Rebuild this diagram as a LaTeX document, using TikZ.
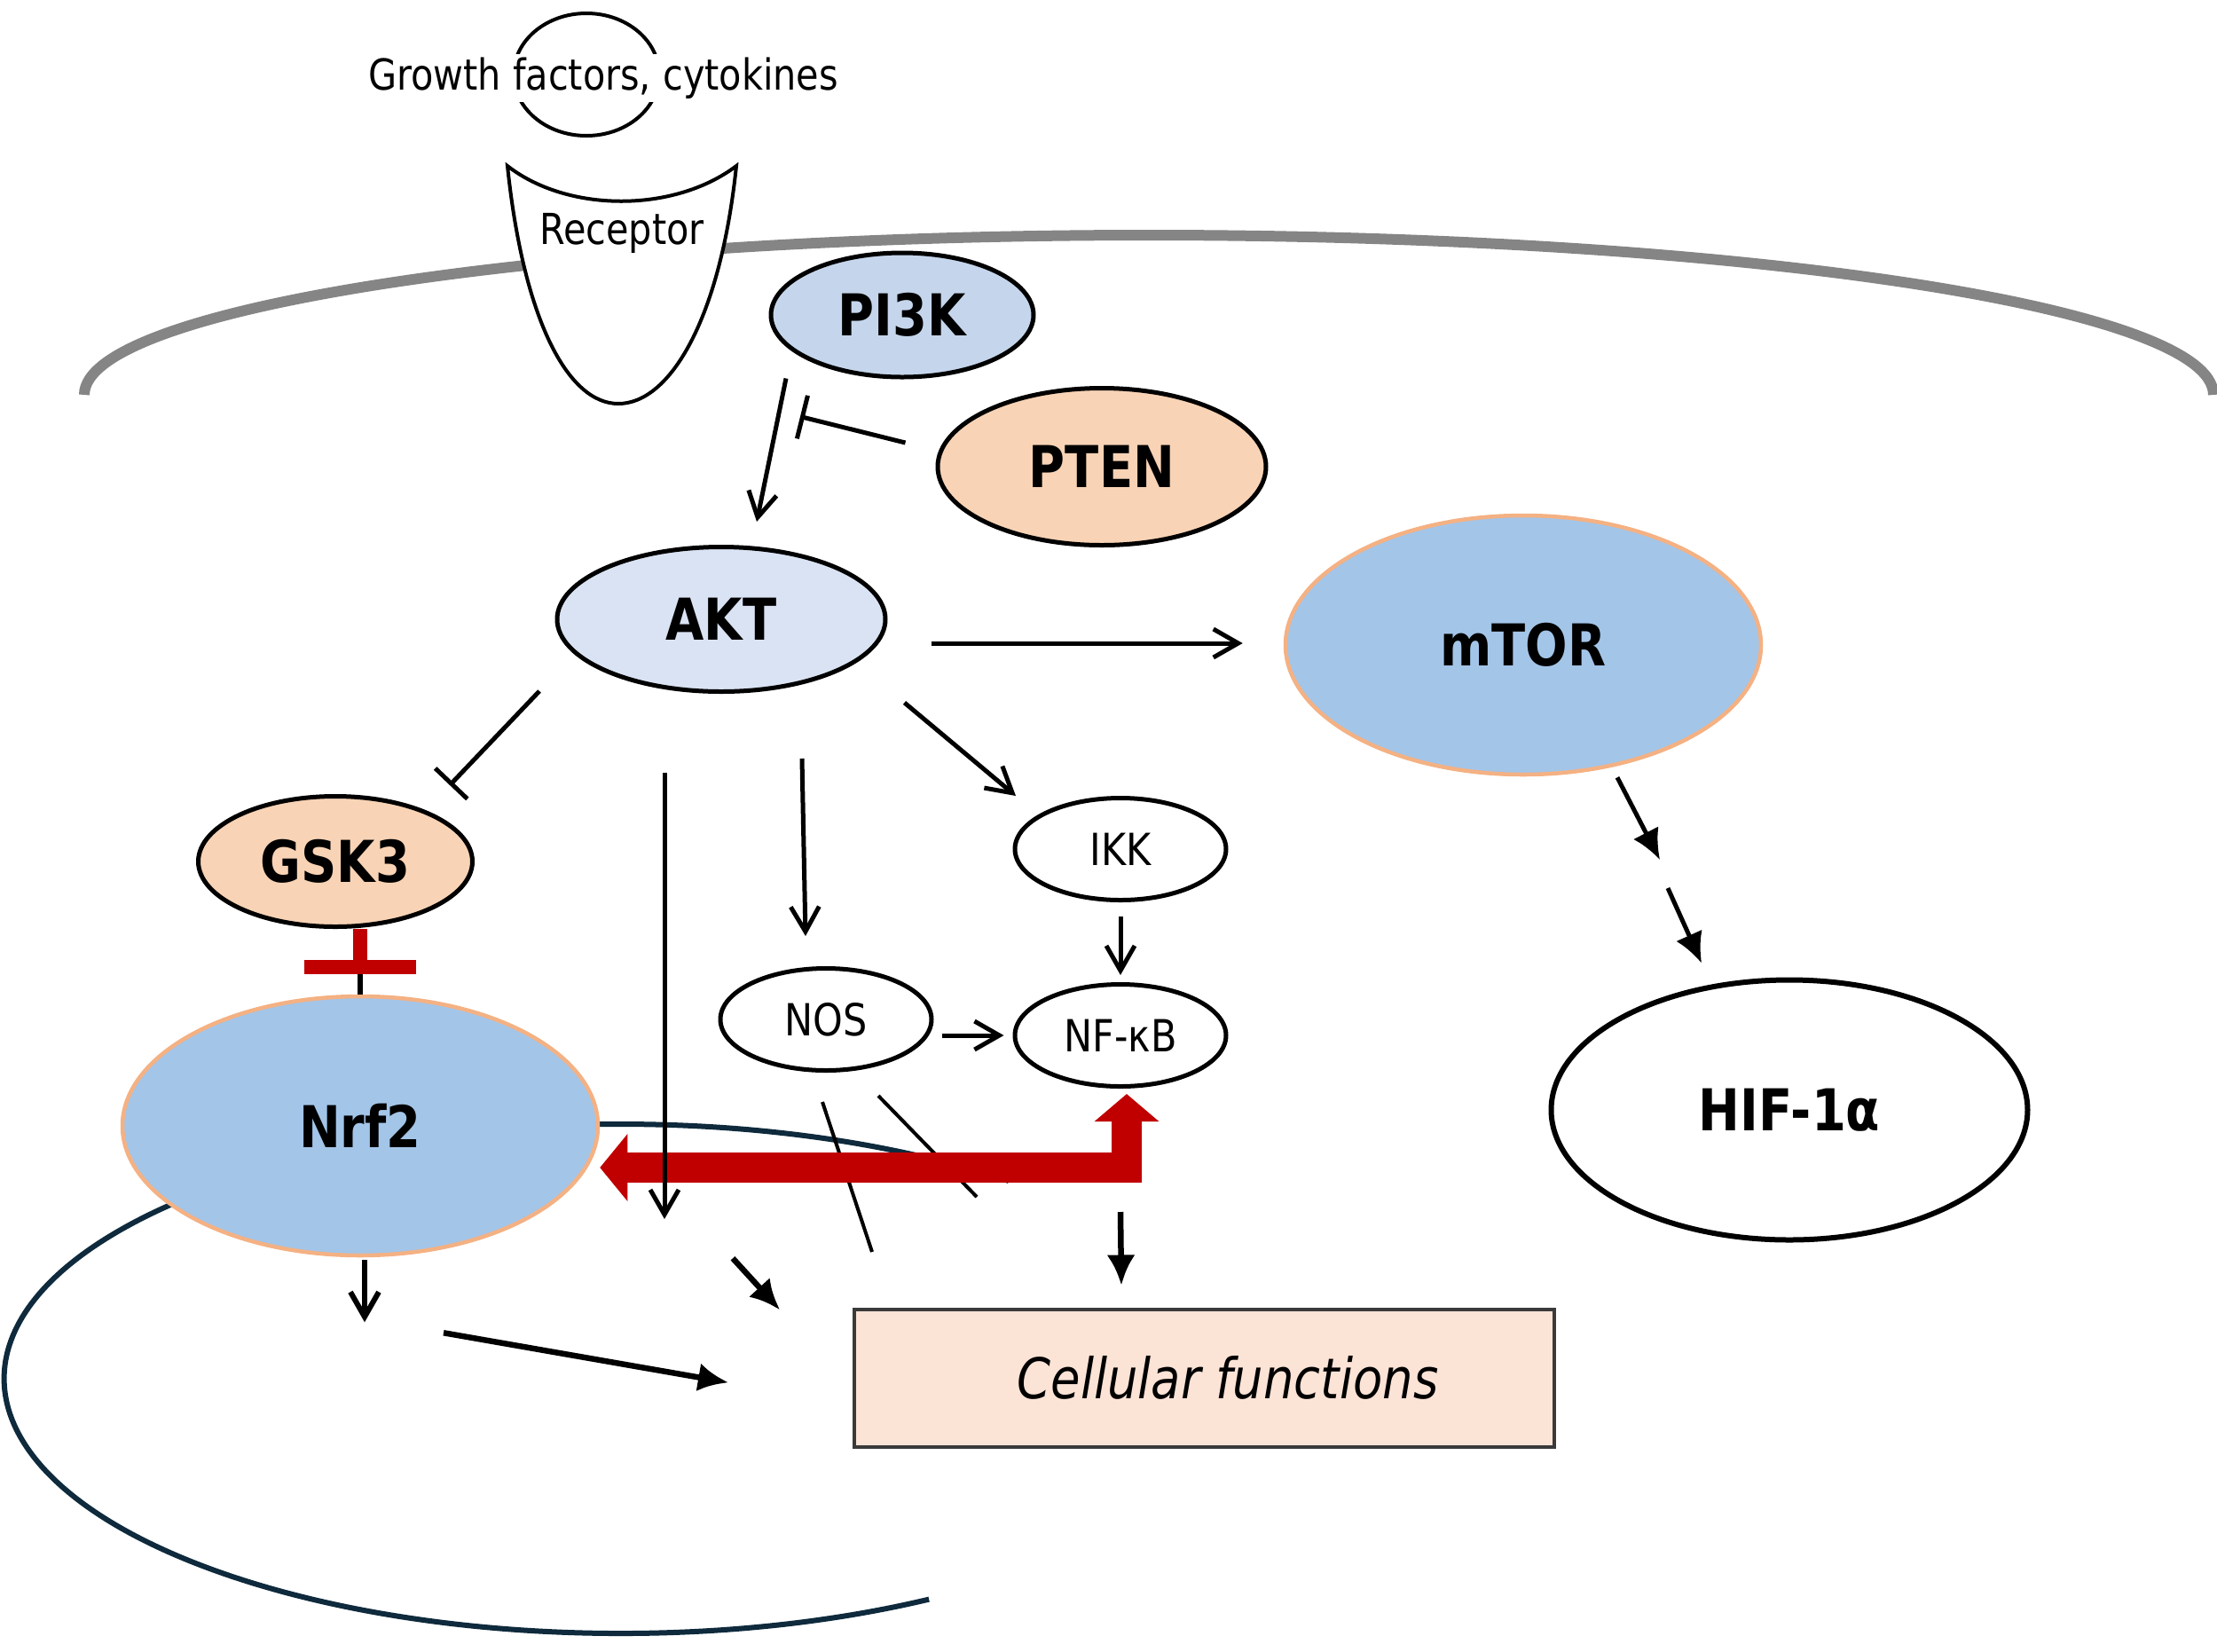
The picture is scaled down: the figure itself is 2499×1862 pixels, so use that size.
\documentclass[tikz,border=0pt]{standalone}
\usepackage{fontspec}
\setmainfont{DejaVu Sans}[FakeStretch=0.86]
\usepackage{xcolor}
\usetikzlibrary{arrows.meta,positioning,calc,shapes.geometric}
\definecolor{Sky}{HTML}{A3C5E8}
\definecolor{Pale}{HTML}{C5D6EC}
\definecolor{Mist}{HTML}{DAE3F3}
\definecolor{Peach}{HTML}{F8D3B5}
\definecolor{Salmon}{HTML}{F4B183}
\definecolor{Blush}{HTML}{FBE3D6}
\definecolor{Crimson}{HTML}{C00000}
\definecolor{Navy}{HTML}{0E2A3C}
\definecolor{Membrane}{HTML}{858585}
\definecolor{BoxLine}{HTML}{3A3A3A}
\tikzset{
  prot/.style={ellipse, draw=black, line width=0.5mm, inner sep=0pt,
    font=\bfseries\fontsize{18.5pt}{20pt}\selectfont},
  core/.style={prot, fill=Sky, draw=Salmon, line width=0.45mm,
    minimum width=53.6mm, minimum height=29.2mm},
  enz/.style={ellipse, draw=black, fill=white, line width=0.5mm, inner sep=0pt,
    minimum width=23.8mm, minimum height=11.5mm, font=\fontsize{14.2pt}{16pt}\selectfont},
  act/.style={line width=0.5mm, -{Straight Barb[length=2.8mm,width=3.2mm]}},
  block/.style={line width=0.5mm, -{Bar[width=5mm]}},
  push/.style={line width=0.65mm, -{Latex[length=3.4mm,width=3.2mm]}},
  cellbox/.style={draw=BoxLine, fill=Blush, line width=0.4mm, inner sep=0pt,
    minimum width=78.9mm, minimum height=15.5mm,
    font=\itshape\fontsize{18pt}{20pt}\selectfont},
  plain/.style={font=\fontsize{13.7pt}{16pt}\selectfont}
}

\begin{document}
\begin{tikzpicture}[x=0.1mm, y=-0.1mm]
  \useasboundingbox (0,0) rectangle (2499,1862);
  \draw[Membrane, line width=1.2mm] (95,445) arc[start angle=180, end angle=0, x radius=120mm, y radius=18mm];
  \draw[Navy, line width=0.6mm] (1137,1331) arc[start angle=51, end angle=300, x radius=69.5mm, y radius=28.7mm];
  \draw[fill=white, line width=0.4mm] (572,187) .. controls (590,360) and (640,455) .. (697,455)
    .. controls (755,455) and (812,360) .. (830,187) .. controls (760,240) and (640,240) .. (572,187) -- cycle;
  \node[plain] (rec) at (701,263) {Receptor};
  \draw[line width=0.4mm] (661,84) ellipse [x radius=8.2mm, y radius=6.9mm];
  \node[plain, fill=white, inner sep=1pt] (gf) at (680,88) {Growth factors, cytokines};

  \node[prot, fill=Pale, minimum width=29.6mm, minimum height=14mm] (PI3K) at (1017,355) {PI3K};
  \node[prot, fill=Peach, minimum width=37mm, minimum height=17.7mm] (PTEN) at (1242,526) {PTEN};
  \node[prot, fill=Mist, minimum width=37mm, minimum height=16.3mm] (AKT) at (813,698) {AKT};
  \node[core] (mTOR) at (1717,727) {mTOR};
  \node[prot, fill=Peach, minimum width=30.9mm, minimum height=14.7mm] (GSK3) at (378,971) {GSK3};
  \node[core] (Nrf2) at (406,1269) {Nrf2};
  \node[prot, fill=white, line width=0.6mm, minimum width=53.7mm, minimum height=29.3mm] (HIF) at (2017,1251) {HIF-1α};
  \node[enz] (IKK) at (1263,957) {IKK};
  \node[enz] (NOS) at (931,1149) {NOS};
  \node[enz] (NFkB) at (1263,1167) {NF-κB};
  \node[cellbox] (cell) at (1357,1553) {\hspace*{5.4mm}Cellular functions};

  \coordinate (gbar) at (406,1098);
  \coordinate (akt1) at (749,1374);
  \coordinate (mt1) at (1871,969);
  \coordinate (mt2) at (1880,1001);
  \coordinate (nrf1) at ($(Nrf2.south)+(5,73)$);
  \coordinate (nrf2) at ($(Nrf2.south)+(94,85)$);
  \coordinate (nrf3) at ($(Nrf2.south)+(415,141)$);
  \coordinate (nrf4) at ($(Nrf2.south)+(420,1)$);
  \coordinate (nrf5) at ($(Nrf2.south)+(473,59)$);

  \draw[act] ($(PI3K.south)+(-131,-1)$) -- ($(AKT.north)+(40,-26)$);
  \draw[block] ($(PTEN.west)+(-34,-27)$) -- ($(PI3K.south)+(-115,42)$);
  \draw[act] ($(AKT.east)+(49,27)$) -- ($(mTOR.west)+(-46,-2)$);
  \draw[block] ($(AKT.south)+(-205,-3)$) -- ($(GSK3.north)+(129,-10)$);
  \draw[act] ($(AKT.south)+(91,73)$) -- ($(NOS.north)+(-23,-34)$);
  \draw[act] ($(AKT.east)+(19,94)$) -- ($(IKK.north)+(-118,0)$);
  \draw[act] ($(IKK.south)+(0,16)$) -- ($(NFkB.north)+(0,-8)$);
  \draw[act] ($(NOS.east)+(9,18)$) -- ($(NFkB.west)+(-10,0)$);
  \draw[push] ($(NFkB.south)+(0,139)$) -- ($(cell.north)+(-93,-25)$);
  \draw[push, line width=0.5mm] ($(mTOR.south)+(106,1)$) -- (mt1);
  \draw[push, line width=0.5mm] (mt2) -- ($(HIF.north)+(-99,-16)$);
  \draw[line width=0.4mm] ($(NOS.south)+(-4,33)$) -- ++(56,169);
  \draw[line width=0.4mm] ($(NOS.south)+(59,26)$) -- ++(111,114);

  \draw[line width=0.55mm] (gbar) -- (Nrf2.north);
  \draw[Crimson, line width=1.6mm, -{Bar[width=12.6mm]}] (gbar |- GSK3.south) -- (gbar);
  \draw[act, line width=0.6mm] ($(Nrf2.south)+(5,3)$) -- (nrf1);
  \draw[push] (nrf2) -- (nrf3);
  \draw[push] (nrf4) -- (nrf5);

  \draw[Crimson, line width=3.4mm, line join=miter, {Triangle[length=3.1mm,width=7.4mm]}-{Triangle[length=3.1mm,width=7.1mm]}]
    ($(Nrf2.east)+(0,47)$) -| ($(NFkB.south)+(7,6)$);
  \draw[act] ($(AKT.south)+(-64,89)$) -- (akt1);
\end{tikzpicture}
\end{document}
